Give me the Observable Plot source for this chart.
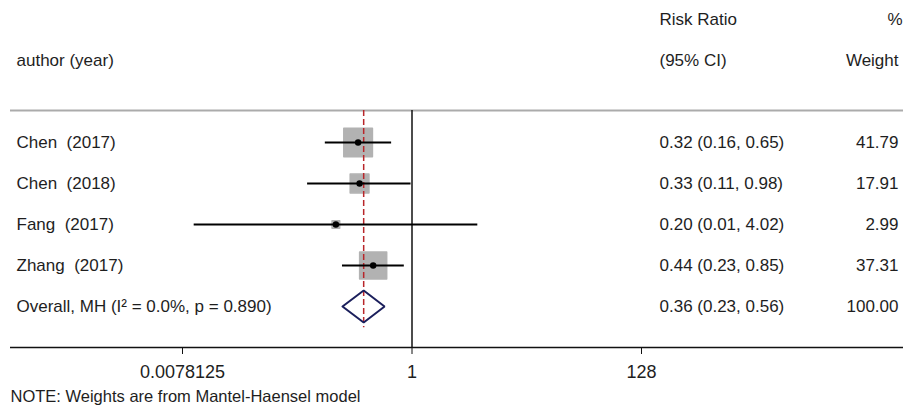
<!DOCTYPE html>
<html>
<head>
<meta charset="utf-8">
<script src="https://cdn.jsdelivr.net/npm/d3@7"></script>
<script src="https://cdn.jsdelivr.net/npm/@observablehq/plot@0.6"></script>
<style>
  html, body { margin: 0; padding: 0; background: #fff; overflow: hidden; }
  svg text { white-space: pre; }
</style>
</head>
<body>
<div id="chart"></div>
<script>
// ---- data ----
const studies = ["Chen  (2017)", "Chen  (2018)", "Fang  (2017)", "Zhang  (2017)"];
const riskRatio = [0.32, 0.33, 0.20, 0.44];
const ciLower = [0.16, 0.11, 0.01, 0.23];
const ciUpper = [0.65, 0.98, 4.02, 0.85];
const weights = [41.79, 17.91, 2.99, 37.31];

const overallLabel = "Overall, MH (I\u00B2 = 0.0%, p = 0.890)";
const overallRR = 0.36;
const overallLower = 0.23;
const overallUpper = 0.56;
const overallWeight = 100.00;

const tickValues = [0.0078125, 1, 128];
const tickLabels = ["0.0078125", "1", "128"];

const headerTop = ["Risk Ratio", "%"];
const headerBottom = ["author (year)", "(95% CI)", "Weight"];
const note = "NOTE: Weights are from Mantel-Haensel model";

// ---- derived tables ----
const fmt = v => v.toFixed(2);
const rows = studies.map((s, i) => ({
  label: s, rr: riskRatio[i], lo: ciLower[i], hi: ciUpper[i], w: weights[i], row: i,
  ci: `${fmt(riskRatio[i])} (${fmt(ciLower[i])}, ${fmt(ciUpper[i])})`,
  wt: fmt(weights[i])
}));
const overallRow = studies.length;
const overall = {
  label: overallLabel, rr: overallRR, lo: overallLower, hi: overallUpper, w: overallWeight, row: overallRow,
  ci: `${fmt(overallRR)} (${fmt(overallLower)}, ${fmt(overallUpper)})`,
  wt: fmt(overallWeight)
};
const allRows = [...rows, overall];
const dh = 0.39; // diamond half-height (row units)
const diamond = [
  {x: overall.lo, y: overallRow},
  {x: overall.rr, y: overallRow - dh},
  {x: overall.hi, y: overallRow},
  {x: overall.rr, y: overallRow + dh},
  {x: overall.lo, y: overallRow}
];

const topY = -0.78;   // separator line row position
const axisY = overallRow + 1;
const font = "'Liberation Sans', Arial, Helvetica, sans-serif";
const ink = "#1e1e1e";

const chart = Plot.plot({
  width: 903,
  height: 409,
  marginLeft: 10,
  marginRight: 0,
  marginTop: 0,
  marginBottom: 62,
  style: {fontFamily: font, fontSize: "17px", color: ink, background: "#fff", overflow: "visible"},
  x: {type: "log", base: 2, domain: [1/128, 128], range: [182, 641]},
  y: {domain: [-3, 5], range: [19, 347], axis: null},
  r: {type: "sqrt", domain: [0, 100], range: [0, 25]},
  marks: [
    // separator line under header
    Plot.ruleY([topY], {stroke: "#ababab", strokeWidth: 2}),
    // axis baseline
    Plot.ruleY([axisY], {stroke: "#111", strokeWidth: 1.5}),
    // null line at 1
    Plot.ruleX([1], {y1: topY, y2: axisY, stroke: "#111", strokeWidth: 1.5}),
    // weight boxes
    Plot.dot(rows, {x: "rr", y: "row", r: "w", symbol: "square", fill: "#b2b2b2", stroke: "#b2b2b2", strokeWidth: 1.5, strokeLinejoin: "round"}),
    // pooled estimate dashed line
    Plot.ruleX([overallRR], {y1: topY, y2: overallRow + 0.52, stroke: "#b8262a", strokeWidth: 1.5, strokeDasharray: "6,3"}),
    // CI lines
    Plot.ruleY(rows, {y: "row", x1: "lo", x2: "hi", stroke: "#000", strokeWidth: 2}),
    // point estimates
    Plot.dot(rows, {x: "rr", y: "row", r: 3.2, fill: "#000"}),
    // diamond
    Plot.line(diamond, {x: "x", y: "y", stroke: "#1b1f5c", strokeWidth: 2, strokeLinejoin: "miter"}),
    // x axis
    Plot.axisX({ticks: tickValues, tickFormat: d => tickLabels[tickValues.indexOf(d)], tickSize: 7, tickPadding: 11, fontSize: 18, label: null, stroke: "#111"}),
    // headers
    Plot.text([headerTop[0]], {y: -3, text: d => d, frameAnchor: "left", dx: 649, textAnchor: "start"}),
    Plot.text([headerTop[1]], {y: -3, text: d => d, frameAnchor: "right", dx: -1, textAnchor: "end"}),
    Plot.text([headerBottom[0]], {y: -2, text: d => d, frameAnchor: "left", dx: 6, textAnchor: "start"}),
    Plot.text([headerBottom[1]], {y: -2, text: d => d, frameAnchor: "left", dx: 649, textAnchor: "start"}),
    Plot.text([headerBottom[2]], {y: -2, text: d => d, frameAnchor: "right", dx: -5, textAnchor: "end"}),
    // row labels
    Plot.text(allRows, {y: "row", text: "label", frameAnchor: "left", dx: 6, textAnchor: "start"}),
    Plot.text(allRows, {y: "row", text: "ci", frameAnchor: "left", dx: 649, textAnchor: "start"}),
    Plot.text(allRows, {y: "row", text: "wt", frameAnchor: "right", dx: -5, textAnchor: "end"}),
    // note
    Plot.text([note], {text: d => d, frameAnchor: "bottom-left", dy: 54, dx: 0, textAnchor: "start", fontSize: 16.5})
  ]
});
document.getElementById("chart").appendChild(chart);
</script>
</body>
</html>
